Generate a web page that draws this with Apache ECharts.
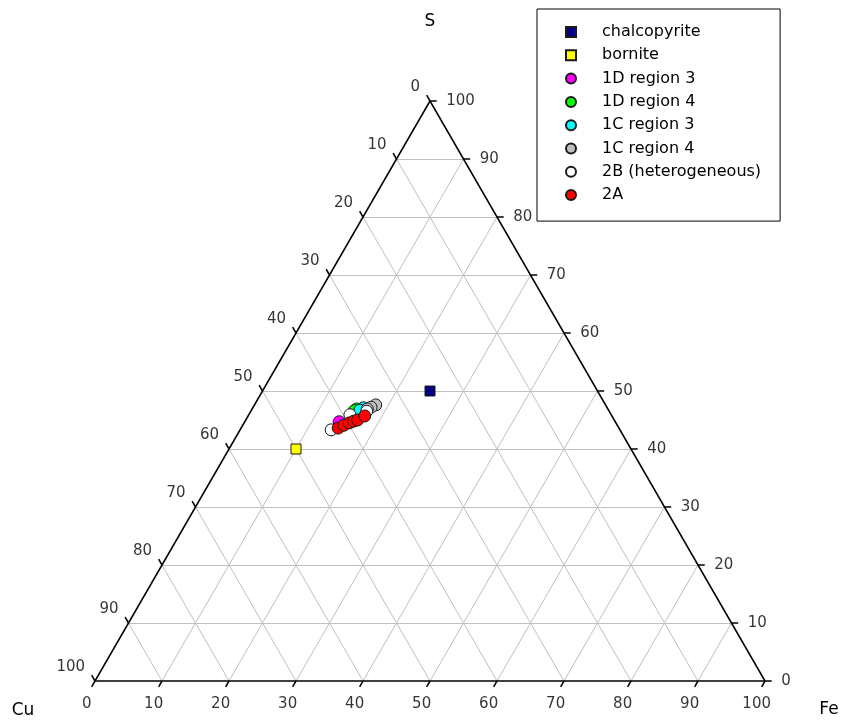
<!DOCTYPE html>
<html>
<head>
<meta charset="utf-8">
<script src="https://cdn.jsdelivr.net/npm/echarts@6/dist/echarts.min.js"></script>
<style>
  html, body { margin: 0; padding: 0; background: #ffffff; }
  #chart { width: 843px; height: 721px; }
</style>
</head>
<body>
<div id="chart"></div>
<script>
// Compositions in atomic percent, each entry is [Cu, Fe, S]
const chalcopyrite = [[25, 25, 50]];
const bornite = [[50, 10, 40]];
const d1Region3 = [[41.2, 14.1, 44.7]];
const d1Region4 = [[37.5, 15.6, 46.9], [38.0, 15.4, 46.6]];
const c1Region3 = [[36.4, 16.5, 47.1], [37.1, 16.2, 46.7]];
const c1Region4 = [[34.3, 18.1, 47.6], [35.2, 17.6, 47.2], [35.9, 17.2, 46.9]];
const b2Heterogeneous = [[43.1, 13.6, 43.3], [39.0, 15.1, 45.9], [36.2, 17.3, 46.5]];
const a2 = [[41.9, 14.5, 43.6], [40.8, 15.1, 44.1], [39.8, 15.7, 44.5],
            [39.0, 16.2, 44.8], [38.3, 16.7, 45.0], [36.9, 17.4, 45.7]];

// Axis tick values (percent) shared by the three sides
const tickValues = [0, 10, 20, 30, 40, 50, 60, 70, 80, 90, 100];
const gridValues = [10, 20, 30, 40, 50, 60, 70, 80, 90];
const cornerNames = { top: 'S', left: 'Cu', right: 'Fe' };

// Ternary [Cu, Fe, S] -> planar coordinates: x = Fe + S/2, y = S
// (y is scaled to the triangle height by the grid's aspect)
function toXY(c) { return [c[1] + c[2] / 2, c[2]]; }
function fromFeS(fe, s) { return [fe + s / 2, s]; }

// Light grid lines for each 10 % step of every component
const gridLines = [];
gridValues.forEach(function (k) {
  // constant S (horizontal)
  gridLines.push({ coords: [fromFeS(0, k), fromFeS(100 - k, k)] });
  // constant Fe (parallel to the Cu-S side)
  gridLines.push({ coords: [fromFeS(k, 0), fromFeS(k, 100 - k)] });
  // constant Cu (parallel to the Fe-S side)
  gridLines.push({ coords: [fromFeS(100 - k, 0), fromFeS(0, 100 - k)] });
});

// Triangle outline
const outline = [
  { coords: [fromFeS(0, 0), fromFeS(100, 0)] },
  { coords: [fromFeS(100, 0), fromFeS(0, 100)] },
  { coords: [fromFeS(0, 100), fromFeS(0, 0)] }
];

// Short outward ticks, one unit long along the grid direction
const tickLen = 1;
const tickSegs = [];
const bottomTickEnds = [], rightTickEnds = [], leftTickEnds = [];
tickValues.forEach(function (k) {
  // bottom side: Fe = k, extended below the base
  const b0 = fromFeS(k, 0), b1 = [k - tickLen / 2, -tickLen];
  tickSegs.push({ coords: [b0, b1] });
  bottomTickEnds.push({ value: b1, name: String(k) });
  // right side: S = k, extended to the right
  const r0 = fromFeS(100 - k, k), r1 = [r0[0] + tickLen, k];
  tickSegs.push({ coords: [r0, r1] });
  rightTickEnds.push({ value: r1, name: String(k) });
  // left side: Cu = k, extended up and to the left
  const l0 = fromFeS(0, 100 - k), l1 = [l0[0] - tickLen / 2, 100 - k + tickLen];
  tickSegs.push({ coords: [l0, l1] });
  leftTickEnds.push({ value: l1, name: String(k) });
});

const FONT = 'DejaVu Sans, Liberation Sans, sans-serif';

function tickLabelSeries(data, label) {
  return {
    type: 'scatter', data: data, symbolSize: 1, silent: true, clip: false,
    itemStyle: { color: 'rgba(0,0,0,0)' },
    label: Object.assign({
      show: true, formatter: '{b}', color: '#000',
      fontFamily: FONT, fontSize: 15
    }, label),
    z: 5
  };
}

function pointSeries(name, data, symbol, color, size) {
  return {
    name: name, type: 'scatter', data: data.map(toXY),
    symbol: symbol, symbolSize: size, symbolKeepAspect: true,
    itemStyle: { color: color, borderColor: '#1a1a1a', borderWidth: 1, opacity: 1 },
    clip: false, z: 10
  };
}

const seriesNames = ['chalcopyrite', 'bornite', '1D region 3', '1D region 4',
  '1C region 3', '1C region 4', '2B (heterogeneous)', '2A'];

const chart = echarts.init(document.getElementById('chart'), null, { renderer: 'canvas' });

// 6.7 px per unit horizontally, 5.8 px per unit vertically (equilateral triangle)
const option = {
  animation: false,
  backgroundColor: '#ffffff',
  grid: { left: 61.5, top: 72, width: 737, height: 638, containLabel: false },
  xAxis: { type: 'value', min: -5, max: 105, show: false },
  yAxis: { type: 'value', min: -5, max: 105, show: false },
  legend: {
    orient: 'vertical', left: 537, top: 9,
    data: seriesNames,
    itemWidth: 10, itemHeight: 10, itemGap: 7.3,
    padding: [15, 19, 18, 28],
    borderColor: '#000', borderWidth: 1, backgroundColor: '#fff',
    symbolKeepAspect: true,
    textStyle: { fontFamily: FONT, fontSize: 16, color: '#000', lineHeight: 16, padding: [0, 0, 0, 21] },
    selectedMode: false, z: 20
  },
  graphic: [
    { type: 'text', style: { text: cornerNames.top, x: 430, y: 22, align: 'center', verticalAlign: 'middle', font: '17px ' + FONT, fill: '#000' } },
    { type: 'text', style: { text: cornerNames.left, x: 23, y: 711, align: 'center', verticalAlign: 'middle', font: '17px ' + FONT, fill: '#000' } },
    { type: 'text', style: { text: cornerNames.right, x: 829, y: 710, align: 'center', verticalAlign: 'middle', font: '17px ' + FONT, fill: '#000' } }
  ],
  series: [
    { type: 'lines', coordinateSystem: 'cartesian2d', data: gridLines, silent: true,
      lineStyle: { color: '#c0c0c0', width: 1, opacity: 1 }, z: 1 },
    { type: 'lines', coordinateSystem: 'cartesian2d', data: outline.concat(tickSegs), silent: true,
      lineStyle: { color: '#000', width: 1.5, opacity: 1 }, z: 3 },
    tickLabelSeries(bottomTickEnds, { position: 'bottom', distance: 9, offset: [-5, 0] }),
    tickLabelSeries(rightTickEnds, { position: 'right', distance: 9 }),
    tickLabelSeries(leftTickEnds, { position: 'left', distance: 6, offset: [0, -8] }),
    pointSeries(seriesNames[0], chalcopyrite, 'rect', '#000080', 10),
    pointSeries(seriesNames[1], bornite, 'rect', '#ffff00', 10),
    pointSeries(seriesNames[2], d1Region3, 'circle', '#ff00ff', 12),
    pointSeries(seriesNames[3], d1Region4, 'circle', '#00ff00', 12),
    pointSeries(seriesNames[4], c1Region3, 'circle', '#00ffff', 12),
    pointSeries(seriesNames[5], c1Region4, 'circle', '#c0c0c0', 12),
    pointSeries(seriesNames[6], b2Heterogeneous, 'circle', '#ffffff', 12),
    pointSeries(seriesNames[7], a2, 'circle', '#ff0000', 12)
  ]
};

chart.setOption(option);
</script>
</body>
</html>
